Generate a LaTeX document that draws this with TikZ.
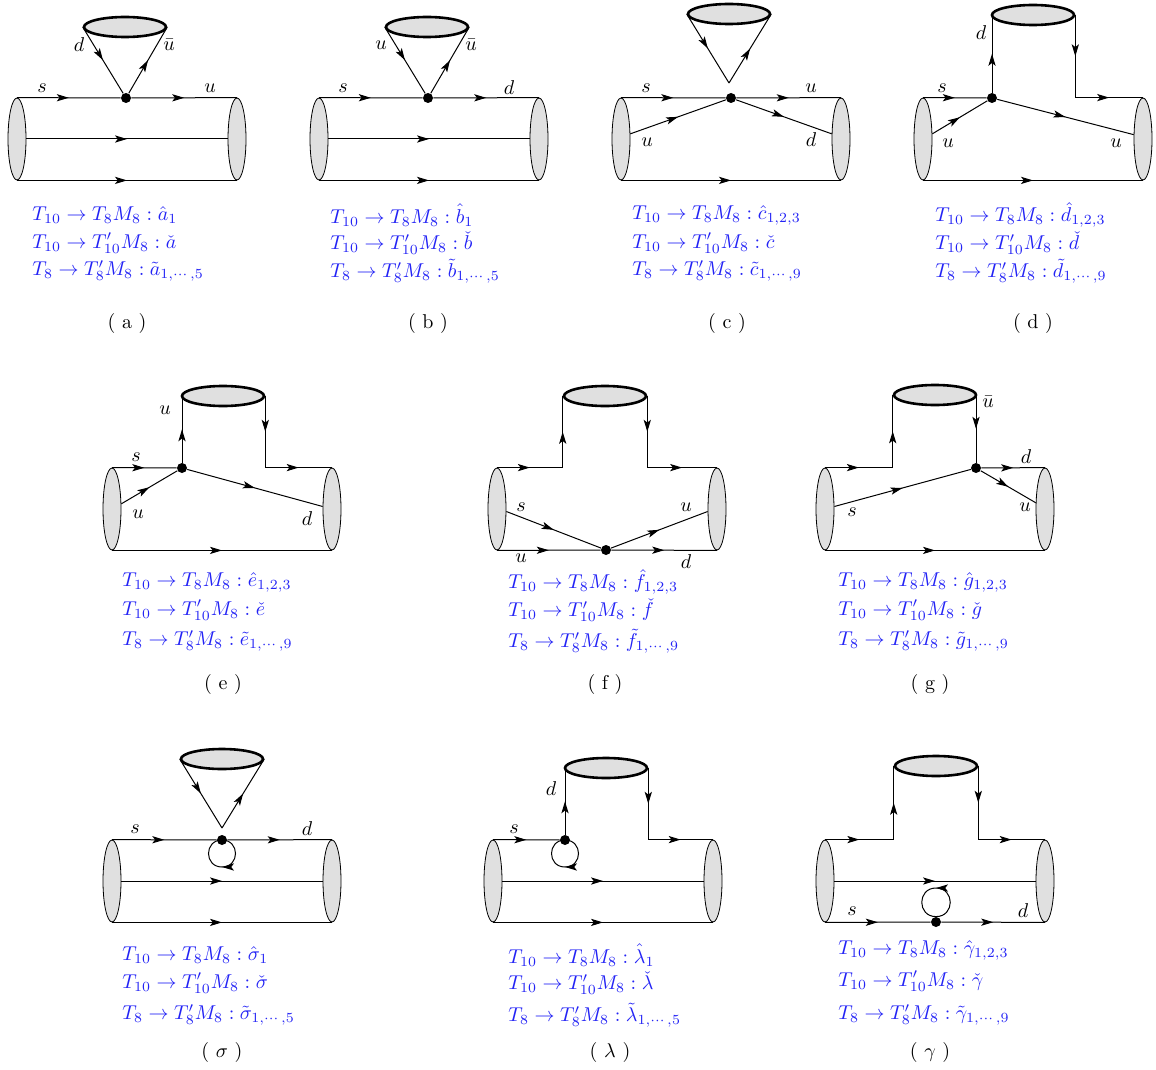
\documentclass[tikz,border=0pt]{standalone}
\usepackage{amsmath}
\usepackage{amssymb}
\usetikzlibrary{
    arrows.meta,
    shapes.geometric,
    decorations.markings,
    calc
}
\definecolor{capgray}{RGB}{224,224,224}
\definecolor{ampblue}{RGB}{35,35,245}
\tikzset {
    quark/.style = {line width = 0.5pt},
    mid arrow/.style = {
        postaction = {
            decorate,
            decoration = {
                markings,
                mark = at position .5 with {\arrow{Stealth[length = 6pt, width = 3.6pt, inset = 1.4pt]}}
            }
        }
    },
    arrowed/.style = {quark, mid arrow},
    baryon cap/.style = {ellipse, draw, line width = 0.4pt, fill = capgray, minimum width = 9pt, minimum height = 41pt, inner sep = 0pt},
    meson blob/.style = {ellipse, draw, line width = 1.3pt, fill = capgray, minimum width = 41pt, minimum height = 10pt, inner sep = 0pt},
    vertex/.style = {circle, fill, inner sep = 0pt, minimum size = 5pt},
    flavour/.style = {inner sep = 0pt},
    amplitude/.style = {text = ampblue, anchor = west, inner sep = 0pt},
    caption/.style = {inner sep = 0pt}
}

\begin{document}
\begin{tikzpicture}[x = 0.5pt, y = -0.5pt]
    \useasboundingbox (0,0) rectangle (1156,1070);
    % (a)
    \begin{scope}[shift = {(17,98)}]
        \node (a-l) [baryon cap] at (0,41) {};
        \node (a-r) [baryon cap] at (220,41) {};
        \node (a-m) [meson blob] at (108,-71) {};
        \node (a-v) [vertex] at (109,0) {};
        \draw [arrowed] (a-l.north) -- (a-v);
        \draw [arrowed] (a-v) -- (a-r.north);
        \draw [arrowed] (a-l.east) -- (a-r.west);
        \draw [arrowed] (a-l.south) -- (a-r.south);
        \draw [arrowed] (a-m.west) -- (a-v);
        \draw [arrowed] (a-v) -- (a-m.east);
        \node (a-q1) [flavour] at (62,-53) {$d$};
        \node (a-q2) [flavour] at (152,-53) {$\bar u$};
        \node (a-q3) [flavour] at (25,-10) {$s$};
        \node (a-q4) [flavour] at (193,-10) {$u$};
        \node (a-t1) [amplitude] at (15,117) {$T_{10}\to T_8M_8:\hat a_1$};
        \node (a-t2) [amplitude] at (15,145) {$T_{10}\to T'_{10}M_8:\check a$};
        \node (a-t3) [amplitude] at (15,173) {$T_8\to T'_8M_8:\tilde a_{1,\cdots,5}$};
        \node (a-c) [caption] at (110,225) {( a )};
    \end{scope}
    % (b)
    \begin{scope}[shift = {(319,98)}]
        \node (b-l) [baryon cap] at (0,41) {};
        \node (b-r) [baryon cap] at (220,41) {};
        \node (b-m) [meson blob] at (108,-71) {};
        \node (b-v) [vertex] at (109,0) {};
        \draw [arrowed] (b-l.north) -- (b-v);
        \draw [arrowed] (b-v) -- (b-r.north);
        \draw [arrowed] (b-l.east) -- (b-r.west);
        \draw [arrowed] (b-l.south) -- (b-r.south);
        \draw [arrowed] (b-m.west) -- (b-v);
        \draw [arrowed] (b-v) -- (b-m.east);
        \node (b-q1) [flavour] at (62,-53) {$u$};
        \node (b-q2) [flavour] at (152,-53) {$\bar u$};
        \node (b-q3) [flavour] at (24,-10) {$s$};
        \node (b-q4) [flavour] at (190,-10) {$d$};
        \node (b-t1) [amplitude] at (11,117) {$T_{10}\to T_8M_8:\hat b_1$};
        \node (b-t2) [amplitude] at (11,145) {$T_{10}\to T'_{10}M_8:\check b$};
        \node (b-t3) [amplitude] at (11,173) {$T_8\to T'_8M_8:\tilde b_{1,\cdots,5}$};
        \node (b-c) [caption] at (109,225) {( b )};
    \end{scope}
    % (c)
    \begin{scope}[shift = {(621,98)}]
        \node (c-l) [baryon cap] at (0,41) {};
        \node (c-r) [baryon cap] at (220,41) {};
        \node (c-m) [meson blob] at (108,-84) {};
        \node (c-v) [vertex] at (110,0) {};
        \coordinate (c-tip) at (108,-15);
        \draw [arrowed] (c-l.north) -- (c-v);
        \draw [arrowed] (c-v) -- (c-r.north);
        \draw [arrowed] (c-l.29) -- (c-v);
        \draw [arrowed] (c-v) -- (c-r.151);
        \draw [arrowed] (c-l.south) -- (c-r.south);
        \draw [arrowed] (c-m.west) -- (c-tip);
        \draw [arrowed] (c-tip) -- (c-m.east);
        \node (c-q1) [flavour] at (25,-10) {$s$};
        \node (c-q2) [flavour] at (190,-10) {$u$};
        \node (c-q3) [flavour] at (26,44) {$u$};
        \node (c-q4) [flavour] at (190,42) {$d$};
        \node (c-t1) [amplitude] at (11,117) {$T_{10}\to T_8M_8:\hat c_{1,2,3}$};
        \node (c-t2) [amplitude] at (11,145) {$T_{10}\to T'_{10}M_8:\check c$};
        \node (c-t3) [amplitude] at (11,173) {$T_8\to T'_8M_8:\tilde c_{1,\cdots,9}$};
        \node (c-c) [caption] at (106,225) {( c )};
    \end{scope}
    % (d)
    \begin{scope}[shift = {(923,98)}]
        \node (d-l) [baryon cap] at (0,41) {};
        \node (d-r) [baryon cap] at (220,41) {};
        \node (d-m) [meson blob] at (110,-83) {};
        \node (d-v) [vertex] at (69,0) {};
        \coordinate (d-k) at (d-m.east |- d-l.north);
        \draw [arrowed] (d-l.north) -- (d-v);
        \draw [arrowed] (d-v) -- (d-v |- d-m.west);
        \draw [arrowed] (d-m.east) -- (d-k);
        \draw [arrowed] (d-k) -- (d-r.north);
        \draw [arrowed] (d-l.29) -- (d-v);
        \draw [arrowed] (d-v) -- (d-r.155);
        \draw [arrowed] (d-l.south) -- (d-r.south);
        \node (d-q1) [flavour] at (58,-65) {$d$};
        \node (d-q2) [flavour] at (19,-10) {$s$};
        \node (d-q3) [flavour] at (25,45) {$u$};
        \node (d-q4) [flavour] at (193,45) {$u$};
        \node (d-t1) [amplitude] at (12,117) {$T_{10}\to T_8M_8:\hat d_{1,2,3}$};
        \node (d-t2) [amplitude] at (12,145) {$T_{10}\to T'_{10}M_8:\check d$};
        \node (d-t3) [amplitude] at (12,173) {$T_8\to T'_8M_8:\tilde d_{1,\cdots,9}$};
        \node (d-c) [caption] at (110,225) {( d )};
    \end{scope}
    % (e)
    \begin{scope}[shift = {(112,468)}]
        \node (e-l) [baryon cap] at (0,41) {};
        \node (e-r) [baryon cap] at (220,41) {};
        \node (e-m) [meson blob] at (111,-72) {};
        \node (e-v) [vertex] at (70,0) {};
        \coordinate (e-k) at (e-m.east |- e-l.north);
        \draw [arrowed] (e-l.north) -- (e-v);
        \draw [arrowed] (e-v) -- (e-v |- e-m.west);
        \draw [arrowed] (e-m.east) -- (e-k);
        \draw [arrowed] (e-k) -- (e-r.north);
        \draw [arrowed] (e-l.29) -- (e-v);
        \draw [arrowed] (e-v) -- (e-r.165);
        \draw [arrowed] (e-l.south) -- (e-r.south);
        \node (e-q1) [flavour] at (53,-58) {$u$};
        \node (e-q2) [flavour] at (24,-11) {$s$};
        \node (e-q3) [flavour] at (26,46) {$u$};
        \node (e-q4) [flavour] at (195,51) {$d$};
        \node (e-t1) [amplitude] at (10,114) {$T_{10}\to T_8M_8:\hat e_{1,2,3}$};
        \node (e-t2) [amplitude] at (10,142) {$T_{10}\to T'_{10}M_8:\check e$};
        \node (e-t3) [amplitude] at (10,173) {$T_8\to T'_8M_8:\tilde e_{1,\cdots,9}$};
        \node (e-c) [caption] at (111,216) {( e )};
    \end{scope}
    % (f)
    \begin{scope}[shift = {(497,468)}]
        \node (f-l) [baryon cap] at (0,41) {};
        \node (f-r) [baryon cap] at (220,41) {};
        \node (f-m) [meson blob] at (108,-72) {};
        \node (f-v) [vertex] at (109,82) {};
        \coordinate (f-kl) at (f-m.west |- f-l.north);
        \coordinate (f-kr) at (f-m.east |- f-l.north);
        \draw [arrowed] (f-l.north) -- (f-kl);
        \draw [arrowed] (f-kl) -- (f-m.west);
        \draw [arrowed] (f-m.east) -- (f-kr);
        \draw [arrowed] (f-kr) -- (f-r.north);
        \draw [arrowed] (f-l.-15) -- (f-v);
        \draw [arrowed] (f-v) -- (f-r.195);
        \draw [arrowed] (f-l.south) -- (f-v);
        \draw [arrowed] (f-v) -- (f-r.south);
        \node (f-q1) [flavour] at (24,39) {$s$};
        \node (f-q2) [flavour] at (189,39) {$u$};
        \node (f-q3) [flavour] at (24,90) {$u$};
        \node (f-q4) [flavour] at (189,94) {$d$};
        \node (f-t1) [amplitude] at (11,114) {$T_{10}\to T_8M_8:\hat f_{1,2,3}$};
        \node (f-t2) [amplitude] at (11,142) {$T_{10}\to T'_{10}M_8:\check f$};
        \node (f-t3) [amplitude] at (11,173) {$T_8\to T'_8M_8:\tilde f_{1,\cdots,9}$};
        \node (f-c) [caption] at (108,216) {( f )};
    \end{scope}
    % (g)
    \begin{scope}[shift = {(825,468)}]
        \node (g-l) [baryon cap] at (0,41) {};
        \node (g-r) [baryon cap] at (220,41) {};
        \node (g-m) [meson blob] at (110,-73) {};
        \node (g-v) [vertex] at (151,0) {};
        \coordinate (g-kl) at (g-m.west |- g-l.north);
        \draw [arrowed] (g-l.north) -- (g-kl);
        \draw [arrowed] (g-kl) -- (g-m.west);
        \draw [arrowed] (g-v |- g-m.east) -- (g-v);
        \draw [arrowed] (g-v) -- (g-r.north);
        \draw [arrowed] (g-l.15) -- (g-v);
        \draw [arrowed] (g-v) -- (g-r.146);
        \draw [arrowed] (g-l.south) -- (g-r.south);
        \node (g-q1) [flavour] at (163,-66) {$\bar u$};
        \node (g-q2) [flavour] at (201,-11) {$d$};
        \node (g-q3) [flavour] at (27,44) {$s$};
        \node (g-q4) [flavour] at (200,39) {$u$};
        \node (g-t1) [amplitude] at (13,114) {$T_{10}\to T_8M_8:\hat g_{1,2,3}$};
        \node (g-t2) [amplitude] at (13,142) {$T_{10}\to T'_{10}M_8:\check g$};
        \node (g-t3) [amplitude] at (13,173) {$T_8\to T'_8M_8:\tilde g_{1,\cdots,9}$};
        \node (g-c) [caption] at (105,216) {( g )};
    \end{scope}
    % (sigma)
    \begin{scope}[shift = {(112,840)}]
        \node (sig-l) [baryon cap] at (0,41) {};
        \node (sig-r) [baryon cap] at (220,41) {};
        \node (sig-m) [meson blob] at (110,-81) {};
        \node (sig-v) [vertex] at (110,0) {};
        \coordinate (sig-tip) at (110,-12);
        \coordinate (sig-lb) at (110,27);
        \draw [arrowed] (sig-l.north) -- (sig-v);
        \draw [arrowed] (sig-v) -- (sig-r.north);
        \draw [arrowed] (sig-l.east) -- (sig-r.west);
        \draw [arrowed] (sig-l.south) -- (sig-r.south);
        \draw [arrowed] (sig-m.west) -- (sig-tip);
        \draw [arrowed] (sig-tip) -- (sig-m.east);
        \draw [arrowed] (sig-v.center) .. controls +(18,0) and +(18,0) .. (sig-lb)
            .. controls +(-18,0) and +(-18,0) .. (sig-v.center);
        \node (sig-q1) [flavour] at (23,-11) {$s$};
        \node (sig-q2) [flavour] at (195,-11) {$d$};
        \node (sig-t1) [amplitude] at (10,115) {$T_{10}\to T_8M_8:\hat\sigma_1$};
        \node (sig-t2) [amplitude] at (10,143) {$T_{10}\to T'_{10}M_8:\check\sigma$};
        \node (sig-t3) [amplitude] at (10,175) {$T_8\to T'_8M_8:\tilde\sigma_{1,\cdots,5}$};
        \node (sig-c) [caption] at (110,212) {( $\sigma$ )};
    \end{scope}
    % (lambda)
    \begin{scope}[shift = {(493,840)}]
        \node (lam-l) [baryon cap] at (0,41) {};
        \node (lam-r) [baryon cap] at (220,41) {};
        \node (lam-m) [meson blob] at (113,-72) {};
        \node (lam-v) [vertex] at (72,0) {};
        \coordinate (lam-k) at (lam-m.east |- lam-l.north);
        \coordinate (lam-lb) at (72,27);
        \draw [arrowed] (lam-l.north) -- (lam-v);
        \draw [arrowed] (lam-v) -- (lam-v |- lam-m.west);
        \draw [arrowed] (lam-m.east) -- (lam-k);
        \draw [arrowed] (lam-k) -- (lam-r.north);
        \draw [arrowed] (lam-l.east) -- (lam-r.west);
        \draw [arrowed] (lam-l.south) -- (lam-r.south);
        \draw [arrowed] (lam-v.center) .. controls +(18,0) and +(18,0) .. (lam-lb)
            .. controls +(-18,0) and +(-18,0) .. (lam-v.center);
        \node (lam-q1) [flavour] at (58,-51) {$d$};
        \node (lam-q2) [flavour] at (21,-11) {$s$};
        \node (lam-t1) [amplitude] at (15,115) {$T_{10}\to T_8M_8:\hat\lambda_1$};
        \node (lam-t2) [amplitude] at (15,143) {$T_{10}\to T'_{10}M_8:\check\lambda$};
        \node (lam-t3) [amplitude] at (15,175) {$T_8\to T'_8M_8:\tilde\lambda_{1,\cdots,5}$};
        \node (lam-c) [caption] at (117,212) {( $\lambda$ )};
    \end{scope}
    % (gamma)
    \begin{scope}[shift = {(825,840)}]
        \node (gam-l) [baryon cap] at (0,41) {};
        \node (gam-r) [baryon cap] at (220,41) {};
        \node (gam-m) [meson blob] at (111,-74) {};
        \node (gam-v) [vertex] at (111,82) {};
        \coordinate (gam-kl) at (gam-m.west |- gam-l.north);
        \coordinate (gam-kr) at (gam-m.east |- gam-l.north);
        \coordinate (gam-lt) at (111,48);
        \draw [arrowed] (gam-l.north) -- (gam-kl);
        \draw [arrowed] (gam-kl) -- (gam-m.west);
        \draw [arrowed] (gam-m.east) -- (gam-kr);
        \draw [arrowed] (gam-kr) -- (gam-r.north);
        \draw [arrowed] (gam-l.east) -- (gam-r.west);
        \draw [arrowed] (gam-l.south) -- (gam-v);
        \draw [arrowed] (gam-v) -- (gam-r.south);
        \draw [arrowed] (gam-v.north) .. controls +(19,0) and +(19,0) .. (gam-lt)
            .. controls +(-19,0) and +(-19,0) .. (gam-v.north);
        \node (gam-q1) [flavour] at (27,71) {$s$};
        \node (gam-q2) [flavour] at (198,71) {$d$};
        \node (gam-t1) [amplitude] at (13,110) {$T_{10}\to T_8M_8:\hat\gamma_{1,2,3}$};
        \node (gam-t2) [amplitude] at (13,141) {$T_{10}\to T'_{10}M_8:\check\gamma$};
        \node (gam-t3) [amplitude] at (13,175) {$T_8\to T'_8M_8:\tilde\gamma_{1,\cdots,9}$};
        \node (gam-c) [caption] at (105,212) {( $\gamma$ )};
    \end{scope}
\end{tikzpicture}
\end{document}
